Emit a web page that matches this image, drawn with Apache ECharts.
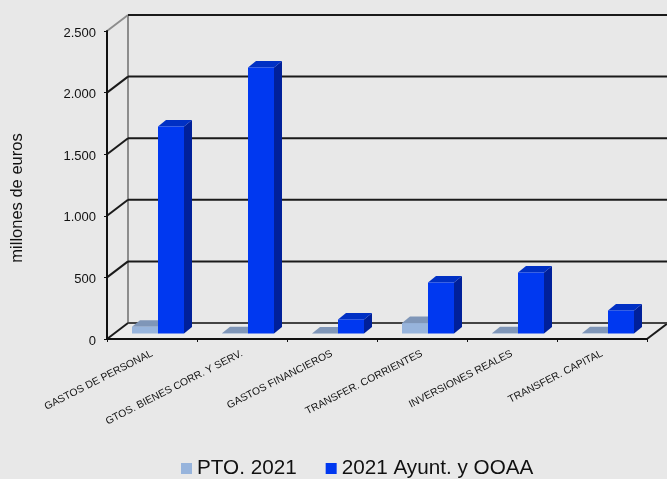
<!DOCTYPE html>
<html><head><meta charset="utf-8">
<style>html,body{margin:0;padding:0;background:#e8e8e8}#c{width:667px;height:479px}</style>
<script src="https://cdn.jsdelivr.net/npm/echarts@6/dist/echarts.min.js"></script>
</head><body><div id="c"></div>
<script>
const categories = ['GASTOS DE PERSONAL','GTOS. BIENES CORR. Y SERV.','GASTOS FINANCIEROS','TRANSFER. CORRIENTES','INVERSIONES REALES','TRANSFER. CAPITAL'];
const pto2021 = [55, 3, 1, 85, 3, 2];
const ayunt2021 = [1680, 2160, 114, 414, 495, 187];
const yTicks = [0, 500, 1000, 1500, 2000, 2500];
const yTickLabels = ['0', '500', '1.000', '1.500', '2.000', '2.500'];
const FONT = '"Liberation Sans", Arial, sans-serif';
const WALL = [21, -16], BAR_DEPTH = [8, -6.5], BAR_SHIFT = [6, -5.5], BAR_FRAC = 26 / 90;

function poly(points, fill) {
  return {type: 'polygon', shape: {points}, style: {fill}};
}
function barSeries(name, values, colors, side) {
  return {
    type: 'custom', name, z: 5,
    itemStyle: {color: colors[0]},
    encode: {x: 0, y: 1},
    data: values.map((v, i) => [i, v]),
    renderItem(params, api) {
      const band = api.size([1, 0])[0], w = band * BAR_FRAC;
      const top = api.coord([api.value(0), api.value(1)]), base = api.coord([api.value(0), 0]);
      const x0 = top[0] + BAR_SHIFT[0] + (side - 1) * w;
      const x1 = x0 + w, yT = top[1] + BAR_SHIFT[1], yB = base[1] + BAR_SHIFT[1];
      const dx = BAR_DEPTH[0], dy = BAR_DEPTH[1];
      return {type: 'group', children: [
        poly([[x1, yB], [x1 + dx, yB + dy], [x1 + dx, yT + dy], [x1, yT]], colors[2]),
        poly([[x0, yT], [x0 + dx, yT + dy], [x1 + dx, yT + dy], [x1, yT]], colors[1]),
        {type: 'rect', shape: {x: x0, y: yT, width: w, height: yB - yT}, style: {fill: colors[0]}}
      ]};
    }
  };
}
const wallSeries = {
  type: 'custom', name: 'walls', z: 1, silent: true, legendHoverLink: false,
  encode: {y: 0}, data: yTicks.map(v => [v]),
  renderItem(params, api) {
    const c = params.coordSys, y = api.coord([0, api.value(0)])[1];
    const x0 = c.x, x1 = c.x + c.width, bx = x0 + WALL[0], by = y + WALL[1];
    const topY = c.y + WALL[1], baseY = c.y + c.height + WALL[1];
    const children = [];
    if (params.dataIndex === 0) {
      children.push(poly([[x0, y], [bx, by], [x1 + WALL[0], by], [x1, y]], '#ebebeb'));
      children.push({type: 'line', shape: {x1: bx, y1: topY, x2: bx, y2: baseY}, style: {stroke: '#8c8c8c', lineWidth: 2}});
      children.push({type: 'line', shape: {x1: x1, y1: y, x2: x1 + WALL[0], y2: by}, style: {stroke: '#1a1a1a', lineWidth: 2}});
    }
    const isTop = params.dataIndex === yTicks.length - 1;
    const isBase = params.dataIndex === 0;
    children.push({type: 'line', shape: {x1: x0, y1: y, x2: bx, y2: by}, style: {stroke: isTop ? '#8c8c8c' : '#1a1a1a', lineWidth: 2}});
    children.push({type: 'line', shape: {x1: bx, y1: by, x2: x1 + WALL[0], y2: by}, style: {stroke: isBase ? '#444' : '#1a1a1a', lineWidth: 2}});
    return {type: 'group', children};
  }
};
const chart = echarts.init(document.getElementById('c'), null, {renderer: 'canvas'});
chart.setOption({
  animation: false,
  backgroundColor: '#e8e8e8',
  textStyle: {fontFamily: FONT},
  grid: {left: 107, right: 20, top: 31, bottom: 140, containLabel: false},
  legend: {
    data: ['PTO. 2021', '2021 Ayunt. y OOAA'], left: 181, top: 458, itemWidth: 11, itemHeight: 11, itemGap: 29,
    icon: 'rect', selectedMode: false, padding: 0,
    textStyle: {fontFamily: FONT, fontSize: 20.7, color: '#111'}
  },
  graphic: [{
    type: 'text', x: 17, y: 198, rotation: Math.PI / 2,
    style: {text: 'millones de euros', font: '16.5px ' + FONT, fill: '#111', align: 'center', verticalAlign: 'middle'}
  }],
  xAxis: {
    type: 'category', data: categories,
    axisLine: {lineStyle: {color: '#111', width: 2}},
    axisTick: {show: true, length: 3, lineStyle: {color: '#111', width: 1}},
    axisLabel: {rotate: 27, fontSize: 10.4, color: '#111', margin: 14, interval: 0, fontFamily: FONT},
    z: 10
  },
  yAxis: {
    type: 'value', min: 0, max: 2500, interval: 500,
    axisLine: {show: true, lineStyle: {color: '#111', width: 2}},
    axisTick: {show: true, length: 3, lineStyle: {color: '#111', width: 1}},
    axisLabel: {color: '#111', margin: 11, fontFamily: FONT,
      formatter: v => '{t|' + yTickLabels[yTicks.indexOf(v)] + '}',
      rich: {t: {fontSize: 13, color: '#111', fontFamily: FONT, padding: [4, 0, 0, 0]}}},
    splitLine: {show: false},
    z: 10
  },
  series: [
    wallSeries,
    barSeries('PTO. 2021', pto2021, ['#97b4dc', '#7f96b8', '#7f96b8'], 0),
    barSeries('2021 Ayunt. y OOAA', ayunt2021, ['#0038f0', '#0030c4', '#00209a'], 1)
  ]
});
</script></body></html>
